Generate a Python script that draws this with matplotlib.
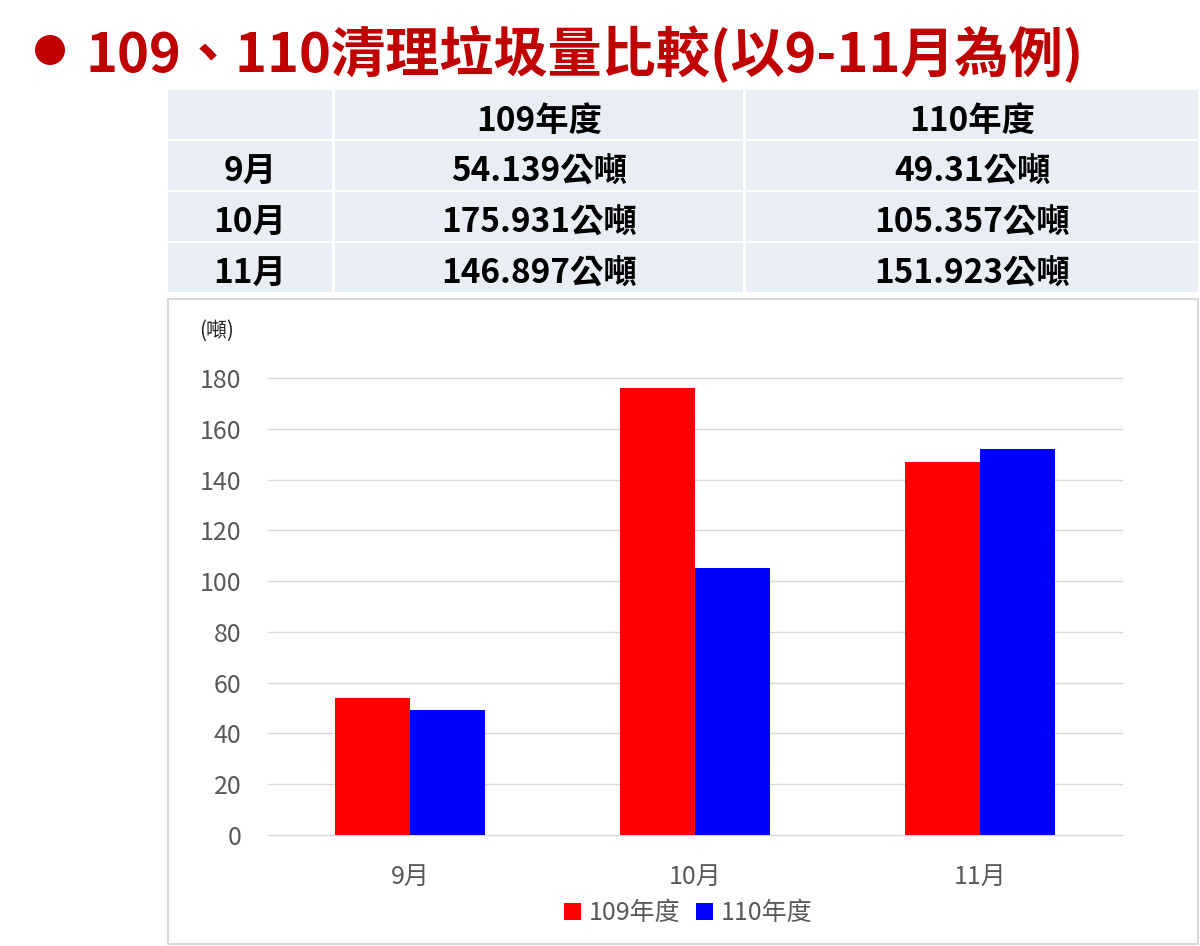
import matplotlib
matplotlib.use("Agg")
import matplotlib.pyplot as plt
from matplotlib.patches import Rectangle, Ellipse, Patch
import numpy as np

plt.rcParams['font.family'] = ['Noto Sans CJK TC', 'DejaVu Sans']

# ---- data ----
title = "109、110清理垃圾量比較(以9-11月為例)"
months = ['9月', '10月', '11月']
series_names = ['109年度', '110年度']
vals_109 = [54.139, 175.931, 146.897]
vals_110 = [49.31, 105.357, 151.923]
unit = '公噸'
yticks = [0, 20, 40, 60, 80, 100, 120, 140, 160, 180]
y_label = '(噸)'
colors = ['#FF0000', '#0000FF']

W, H = 1200, 946
fig = plt.figure(figsize=(W / 100, H / 100), dpi=100)
fig.patch.set_facecolor('white')


def fx(x):
    return x / W


def fy(y):
    return 1 - y / H


# ---- title ----
fig.patches.append(Ellipse((fx(50), fy(50)), 30 / W, 30 / H, transform=fig.transFigure,
                           facecolor='#C00000', edgecolor='none'))
fig.text(fx(86), fy(55), title, fontsize=39, fontweight='bold', color='#C00000',
         ha='left', va='center')

# ---- table ----
cols = [(168, 332), (335, 743), (746, 1198)]
rows = [(90, 139), (141, 190), (192, 241), (243, 292)]
cells = [['', series_names[0], series_names[1]]]
for m, a, b in zip(months, vals_109, vals_110):
    cells.append([m, f"{a}{unit}", f"{b}{unit}"])
for ri, (y0, y1) in enumerate(rows):
    for ci, (x0, x1) in enumerate(cols):
        fig.patches.append(Rectangle((fx(x0), fy(y1)), (x1 - x0) / W, (y1 - y0) / H,
                                     transform=fig.transFigure, facecolor='#E9EDF4',
                                     edgecolor='none', zorder=0))
        t = cells[ri][ci]
        if t:
            fig.text(fx((x0 + x1) / 2), fy((y0 + y1) / 2 + 7), t, fontsize=24,
                     fontweight='bold', color='black', ha='center', va='center')

# ---- chart box ----
fig.patches.append(Rectangle((fx(168), fy(944)), (1198 - 168) / W, (944 - 299) / H,
                             transform=fig.transFigure, facecolor='white',
                             edgecolor='#D9D9D9', lw=1.5, zorder=0))

ax = fig.add_axes([fx(268), fy(835), (1122 - 268) / W, (835 - 378) / H])
ax.set_zorder(2)
x = np.arange(len(months))
bw = 0.264
ax.bar(x - bw / 2, vals_109, width=bw, color=colors[0], label=series_names[0], zorder=3)
ax.bar(x + bw / 2, vals_110, width=bw, color=colors[1], label=series_names[1], zorder=3)
ax.set_xlim(-0.5, len(months) - 0.5)
ax.set_ylim(0, 180)
ax.set_yticks(yticks)
ax.set_xticks(x)
ax.set_xticklabels(months)
ax.grid(axis='y', color='#D9D9D9', lw=1, zorder=0, clip_on=False)
for s in ax.spines.values():
    s.set_visible(False)
ax.tick_params(axis='both', length=0, labelsize=18, labelcolor='#595959')
ax.tick_params(axis='y', pad=19)
ax.tick_params(axis='x', pad=21)
ax.set_facecolor('none')

fig.text(fx(199), fy(331), y_label, fontsize=15, color='#262626', ha='left', va='center')

handles = [Patch(facecolor=c, edgecolor='none') for c in colors]
fig.legend(handles, series_names, loc='center', bbox_to_anchor=(fx(688), fy(913)),
           ncol=2, frameon=False, fontsize=18, handlelength=0.7, handleheight=0.7,
           handletextpad=0.3, columnspacing=0.6, labelcolor='#595959')

fig.savefig('out.png', dpi=100)
